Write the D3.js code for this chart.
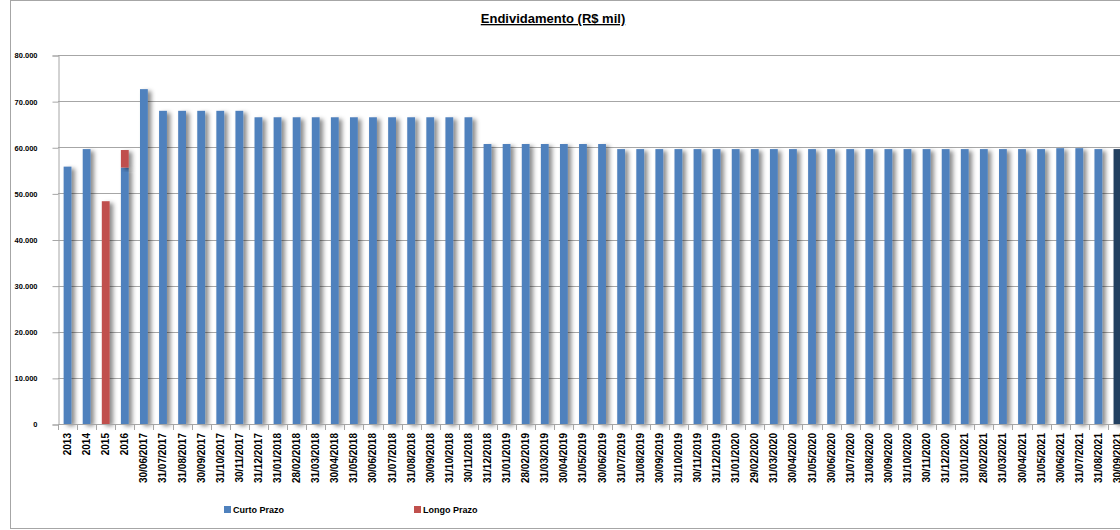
<!DOCTYPE html>
<html>
<head>
<meta charset="utf-8">
<script src="https://cdn.jsdelivr.net/npm/d3@7"></script>
<style>
  body { margin: 0; background: #fff; }
  svg { display: block; font-family: "Liberation Sans", Arial, sans-serif; }
</style>
</head>
<body>
<svg width="1120" height="530"></svg>
<script>
var categories = [
  "2013", "2014", "2015", "2016",
  "30/06/2017", "31/07/2017", "31/08/2017", "30/09/2017", "31/10/2017", "30/11/2017", "31/12/2017",
  "31/01/2018", "28/02/2018", "31/03/2018", "30/04/2018", "31/05/2018", "30/06/2018",
  "31/07/2018", "31/08/2018", "30/09/2018", "31/10/2018", "30/11/2018", "31/12/2018",
  "31/01/2019", "28/02/2019", "31/03/2019", "30/04/2019", "31/05/2019", "30/06/2019",
  "31/07/2019", "31/08/2019", "30/09/2019", "31/10/2019", "30/11/2019", "31/12/2019",
  "31/01/2020", "29/02/2020", "31/03/2020", "30/04/2020", "31/05/2020", "30/06/2020",
  "31/07/2020", "31/08/2020", "30/09/2020", "31/10/2020", "30/11/2020", "31/12/2020",
  "31/01/2021", "28/02/2021", "31/03/2021", "30/04/2021", "31/05/2021", "30/06/2021",
  "31/07/2021", "31/08/2021", "30/09/2021"
];

var curtoPrazo = [
  55800, 59600, 0, 55600,
  72600, 67900, 67900, 67900, 67900, 67900, 66500,
  66500, 66500, 66500, 66500, 66500, 66500,
  66500, 66500, 66500, 66500, 66500, 60700,
  60700, 60700, 60700, 60700, 60700, 60700,
  59600, 59600, 59600, 59600, 59600, 59600,
  59600, 59600, 59600, 59600, 59600, 59600,
  59600, 59600, 59600, 59600, 59600, 59600,
  59600, 59600, 59600, 59600, 59600, 59800,
  59800, 59600, 59600
];

var longoPrazo = [
  0, 0, 48300, 3800,
  0, 0, 0, 0, 0, 0, 0,
  0, 0, 0, 0, 0, 0,
  0, 0, 0, 0, 0, 0,
  0, 0, 0, 0, 0, 0,
  0, 0, 0, 0, 0, 0,
  0, 0, 0, 0, 0, 0,
  0, 0, 0, 0, 0, 0,
  0, 0, 0, 0, 0, 0,
  0, 0, 0
];

var seriesNames = ["Curto Prazo", "Longo Prazo"];
var yTicks = [0, 10000, 20000, 30000, 40000, 50000, 60000, 70000, 80000];
var chartTitle = "Endividamento (R$ mil)";
var selectedCategory = "30/09/2021";

var svg = d3.select("svg");
var colors = { "Curto Prazo": "#4F81BD", "Longo Prazo": "#C0504D" };
var selectedColor = "#243F60";
var gridColor = "#A6A6A6";

var ptBR = d3.formatLocale({ decimal: ",", thousands: ".", grouping: [3], currency: ["R$", ""] });
var fmt = ptBR.format(",.0f");

var plotLeft = 58, plotTop = 55, plotBottom = 424;
var plotRight = 1127;

var x = d3.scaleBand()
  .domain(categories)
  .range([plotLeft, plotRight])
  .paddingInner(0.59)
  .paddingOuter(0.295);

var y = d3.scaleLinear()
  .domain([0, 80000])
  .range([plotBottom, plotTop]);

// drop shadow like the spreadsheet bars
var defs = svg.append("defs");
var shadow = defs.append("filter")
  .attr("id", "shadow")
  .attr("x", "-50%").attr("y", "-10%")
  .attr("width", "250%").attr("height", "130%");
shadow.append("feDropShadow")
  .attr("dx", 3.5)
  .attr("dy", 2)
  .attr("stdDeviation", 2)
  .attr("flood-color", "#000")
  .attr("flood-opacity", 0.45);

// outer chart border
svg.append("rect")
  .attr("x", 10.5)
  .attr("y", 0.5)
  .attr("width", 1200)
  .attr("height", 528)
  .attr("fill", "#fff")
  .attr("stroke", gridColor)
  .attr("stroke-width", 1);

svg.append("text")
  .attr("x", 553)
  .attr("y", 23)
  .attr("text-anchor", "middle")
  .attr("font-size", 13)
  .attr("font-weight", "bold")
  .attr("text-decoration", "underline")
  .attr("fill", "#000")
  .text(chartTitle);

// gridlines
svg.append("g")
  .selectAll("line")
  .data(yTicks.filter(d => d > 0))
  .enter().append("line")
  .attr("x1", plotLeft)
  .attr("x2", 1200)
  .attr("y1", d => Math.round(y(d)) + 0.5)
  .attr("y2", d => Math.round(y(d)) + 0.5)
  .attr("stroke", gridColor)
  .attr("stroke-width", 1);

// y axis
var yAxis = svg.append("g")
  .attr("transform", "translate(" + (plotLeft + 0.5) + ",0.5)")
  .call(d3.axisLeft(y).tickValues(yTicks).tickFormat(fmt).tickSize(6).tickPadding(15));
yAxis.selectAll("path, line").attr("stroke", gridColor);
yAxis.selectAll("text")
  .attr("font-size", 7.5)
  .attr("font-weight", "bold")
  .attr("font-family", "Liberation Sans, Arial, sans-serif")
  .attr("fill", "#000");

// stacked bars
var rows = categories.map(function(c, i) {
  return { cat: c, "Curto Prazo": curtoPrazo[i], "Longo Prazo": longoPrazo[i] };
});
var stacked = d3.stack().keys(seriesNames)(rows);

svg.append("g")
  .selectAll("g")
  .data(stacked)
  .enter().append("g")
  .selectAll("rect")
  .data(function(s) { return s.map(function(d) { d.key = s.key; return d; }); })
  .enter().append("rect")
  .filter(d => d[1] > d[0])
  .attr("x", d => x(d.data.cat))
  .attr("width", x.bandwidth())
  .attr("y", d => y(d[1]))
  .attr("height", d => y(d[0]) - y(d[1]))
  .attr("fill", d => d.data.cat === selectedCategory ? selectedColor : colors[d.key])
  .attr("filter", "url(#shadow)");

// x axis
var step = x.step();
var boundaries = d3.range(categories.length + 1).map(i => plotLeft + i * step);
var xAxis = svg.append("g");
xAxis.append("line")
  .attr("x1", plotLeft)
  .attr("x2", 1200)
  .attr("y1", plotBottom + 0.5)
  .attr("y2", plotBottom + 0.5)
  .attr("stroke", gridColor);
xAxis.selectAll(".tick")
  .data(boundaries)
  .enter().append("line")
  .attr("class", "tick")
  .attr("x1", d => Math.round(d) + 0.5)
  .attr("x2", d => Math.round(d) + 0.5)
  .attr("y1", plotBottom)
  .attr("y2", plotBottom + 6)
  .attr("stroke", gridColor);
xAxis.selectAll("text")
  .data(categories)
  .enter().append("text")
  .attr("transform", d => "translate(" + (x(d) + x.bandwidth() / 2) + "," + (plotBottom + 9) + ") rotate(-90)")
  .attr("dy", "0.35em")
  .attr("text-anchor", "end")
  .attr("font-size", 10)
  .attr("font-weight", "bold")
  .attr("fill", "#000")
  .text(d => d);

// legend
var legendX = [224, 414];
var legend = svg.append("g")
  .selectAll("g")
  .data(seriesNames)
  .enter().append("g")
  .attr("transform", (d, i) => "translate(" + legendX[i] + ",506)");
legend.append("rect")
  .attr("width", 7)
  .attr("height", 7)
  .attr("fill", d => colors[d]);
legend.append("text")
  .attr("x", 9)
  .attr("y", 6.5)
  .attr("font-size", 9)
  .attr("font-weight", "bold")
  .attr("fill", "#000")
  .text(d => d);
</script>
</body>
</html>
